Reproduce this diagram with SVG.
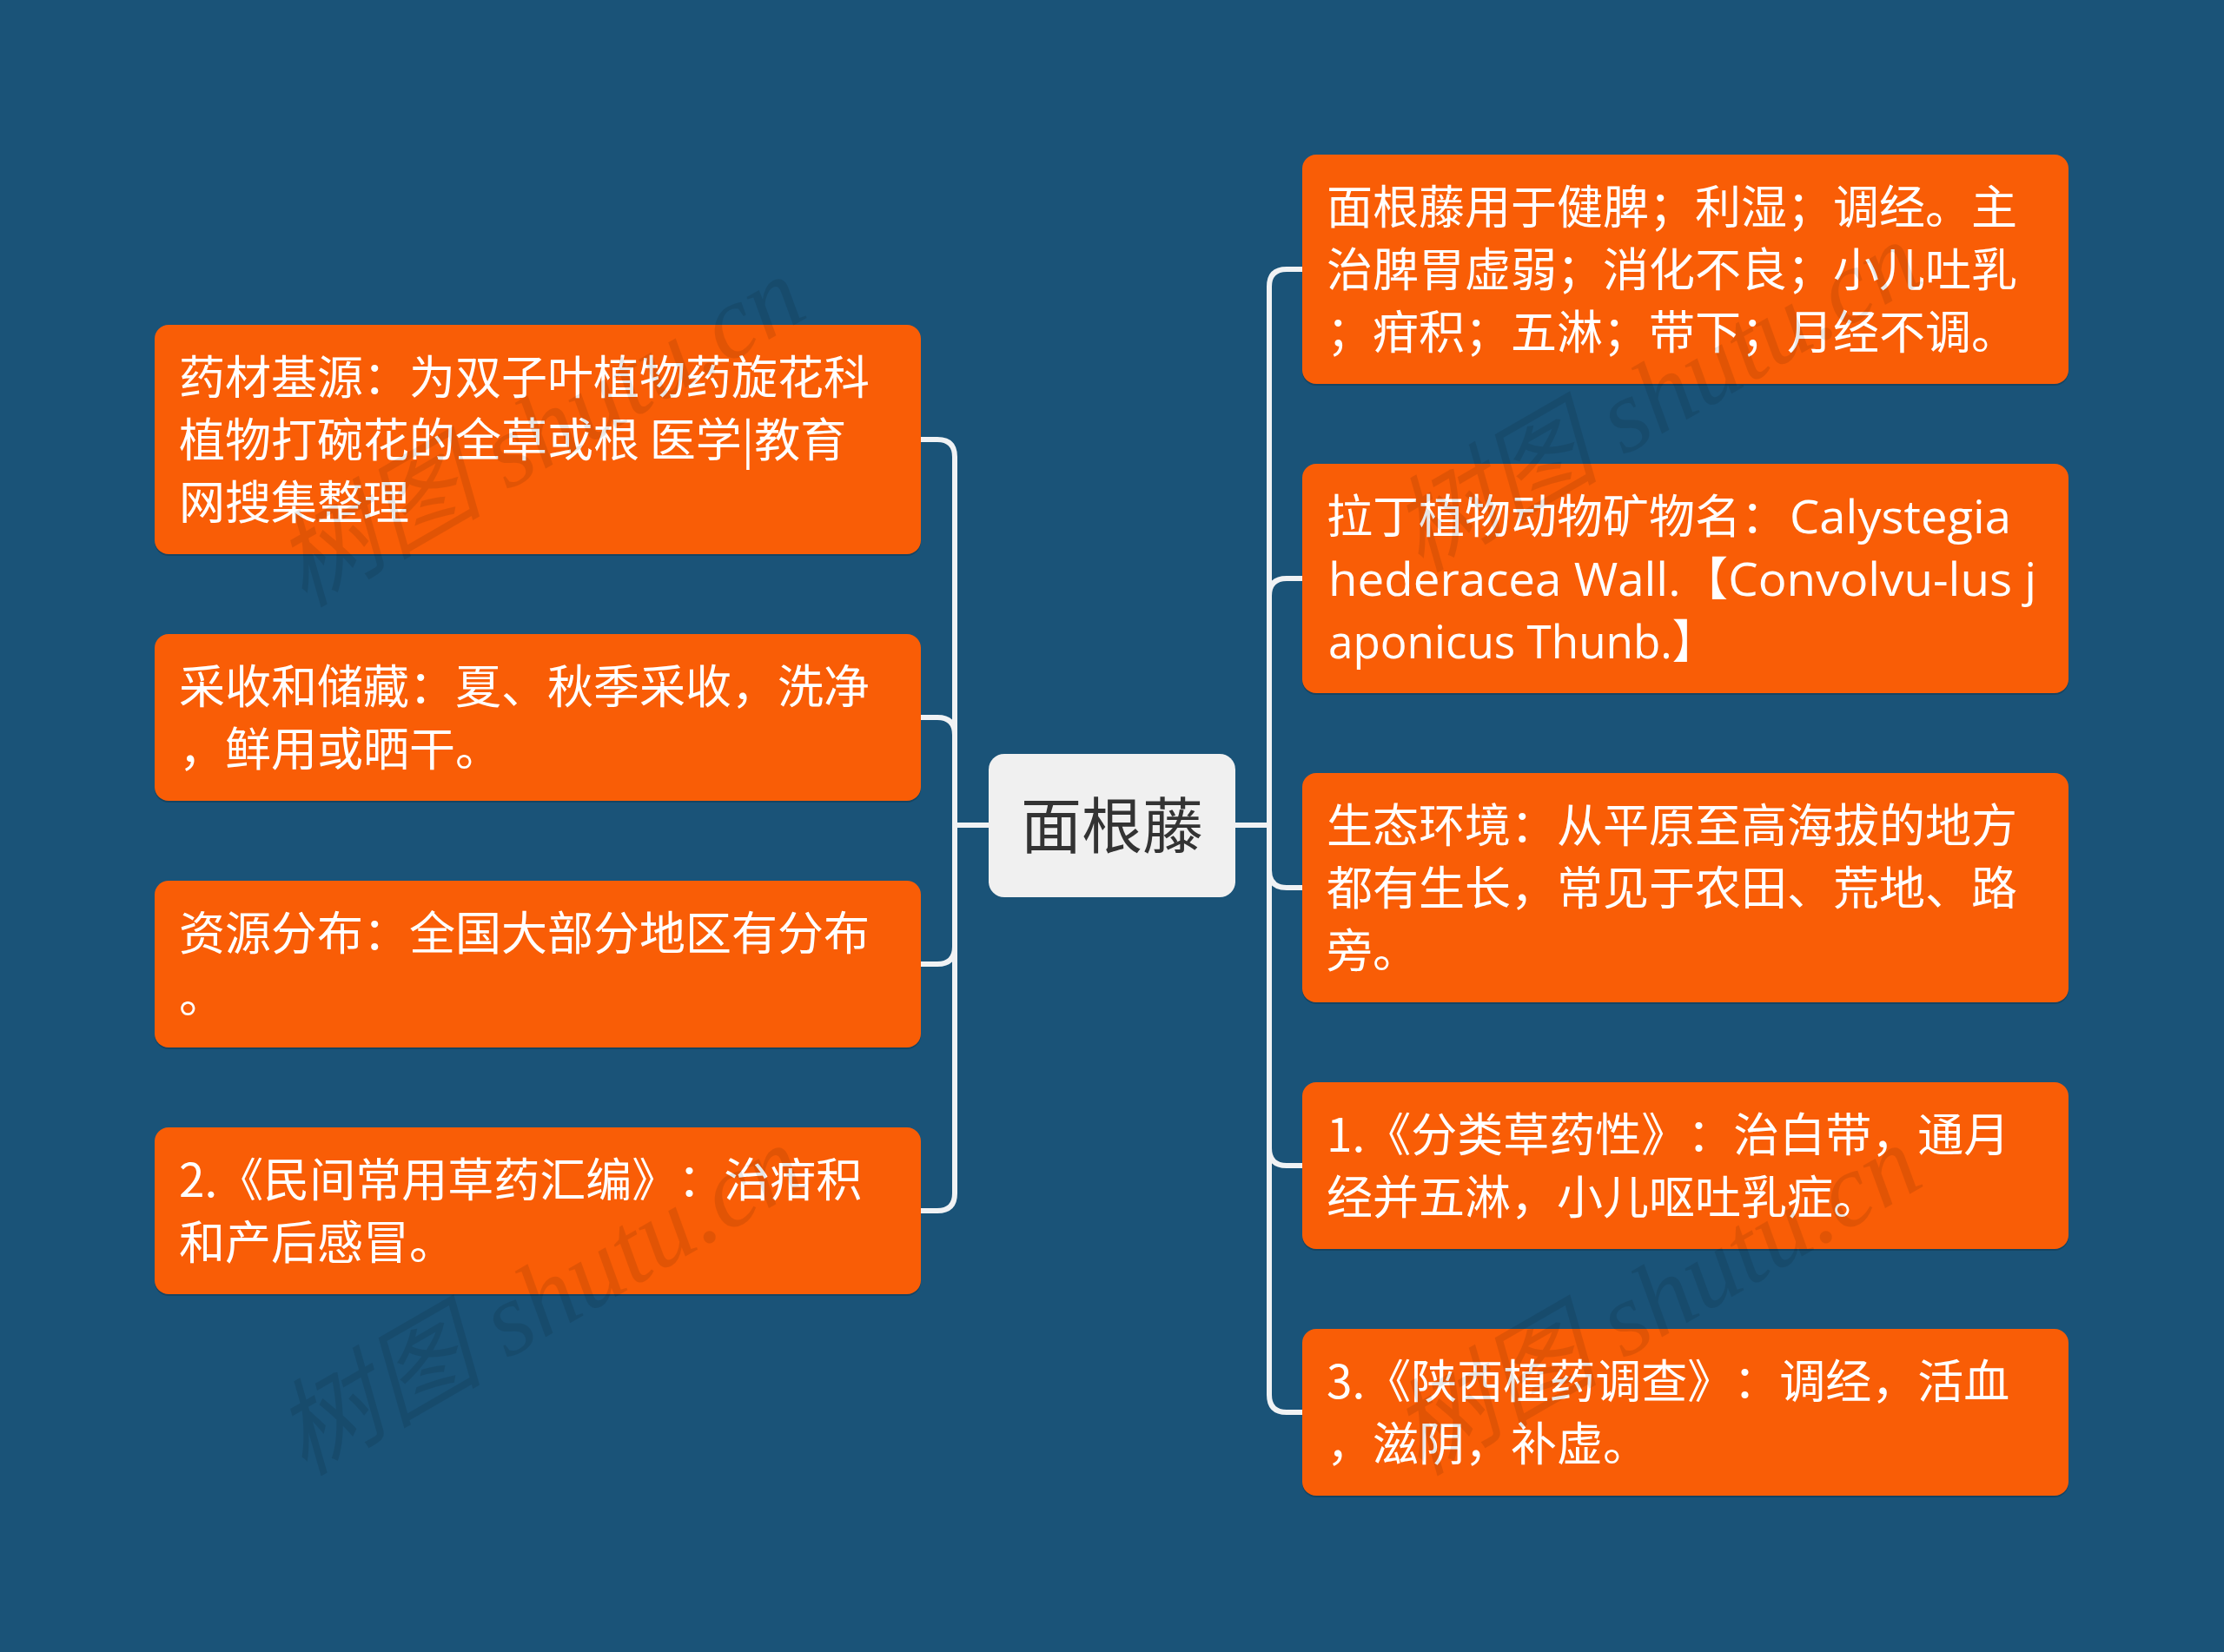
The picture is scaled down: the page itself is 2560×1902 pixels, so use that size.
<svg xmlns="http://www.w3.org/2000/svg" width="2560" height="1902" viewBox="0 0 2560 1902">
<style>
.bg{fill:#1a5378}
.node rect.box{fill:#f95d06}
.node rect.sh{fill:#000;opacity:0.18}
.t{font-family:"Noto Sans CJK SC","Noto Sans",sans-serif;font-size:53px;fill:#ffffff;text-spacing-trim:space-all}
.lat{font-family:"Open Sans","Noto Sans CJK SC",sans-serif}
.conn path{fill:none;stroke:#f0f2f4;stroke-width:6;stroke-linecap:round}
.wm{font-family:"Liberation Serif","Noto Sans CJK SC",serif;font-style:italic;font-size:120px;fill:#000;opacity:0.09}
</style>
<rect class="bg" x="0" y="0" width="2560" height="1902"/>
<g class="conn" id="connectors">
<path d="M1138 950 H1099 V526 Q1099 506 1079 506 H1060"/>
<path d="M1138 950 H1099 V846 Q1099 826 1079 826 H1060"/>
<path d="M1138 950 H1099 V1090 Q1099 1110 1079 1110 H1060"/>
<path d="M1138 950 H1099 V1374 Q1099 1394 1079 1394 H1060"/>
<path d="M1422 950 H1461 V330 Q1461 310 1481 310 H1499"/>
<path d="M1422 950 H1461 V686 Q1461 666 1481 666 H1499"/>
<path d="M1422 950 H1461 V1002 Q1461 1022 1481 1022 H1499"/>
<path d="M1422 950 H1461 V1322 Q1461 1342 1481 1342 H1499"/>
<path d="M1422 950 H1461 V1606 Q1461 1626 1481 1626 H1499"/>
</g>
<g id="center" class="node">
<rect x="1138" y="868" width="284" height="165" rx="18" fill="#f0f0f0"/>
<text x="1280" y="977" text-anchor="middle" style="font-family:'Noto Sans CJK SC','Noto Sans',sans-serif;font-size:70px;fill:#333333">面根藤</text>
</g>
<g id="l1" class="node">
<rect class="sh" x="178" y="376" width="882" height="264" rx="16"/>
<rect class="box" x="178" y="374" width="882" height="264" rx="16"/>
<text class="t" x="206" y="454">药材基源：为双子叶植物药旋花科</text>
<text class="t" x="206" y="526">植物打碗花的全草或根 医学|教育</text>
<text class="t" x="206" y="598">网搜集整理</text>
</g>
<g id="l2" class="node">
<rect class="sh" x="178" y="732" width="882" height="192" rx="16"/>
<rect class="box" x="178" y="730" width="882" height="192" rx="16"/>
<text class="t" x="206" y="810">采收和储藏：夏、秋季采收，洗净</text>
<text class="t" x="206" y="882">，鲜用或晒干。</text>
</g>
<g id="l3" class="node">
<rect class="sh" x="178" y="1016" width="882" height="192" rx="16"/>
<rect class="box" x="178" y="1014" width="882" height="192" rx="16"/>
<text class="t" x="206" y="1094">资源分布：全国大部分地区有分布</text>
<text class="t" x="206" y="1166">。</text>
</g>
<g id="l4" class="node">
<rect class="sh" x="178" y="1300" width="882" height="192" rx="16"/>
<rect class="box" x="178" y="1298" width="882" height="192" rx="16"/>
<text class="t" x="206" y="1378">2.《民间常用草药汇编》：治疳积</text>
<text class="t" x="206" y="1450">和产后感冒。</text>
</g>
<g id="r1" class="node">
<rect class="sh" x="1499" y="180" width="882" height="264" rx="16"/>
<rect class="box" x="1499" y="178" width="882" height="264" rx="16"/>
<text class="t" x="1527" y="258">面根藤用于健脾；利湿；调经。主</text>
<text class="t" x="1527" y="330">治脾胃虚弱；消化不良；小儿吐乳</text>
<text class="t" x="1527" y="402">；疳积；五淋；带下；月经不调。</text>
</g>
<g id="r2" class="node">
<rect class="sh" x="1499" y="536" width="882" height="264" rx="16"/>
<rect class="box" x="1499" y="534" width="882" height="264" rx="16"/>
<text class="t" x="1527" y="614">拉丁植物动物矿物名：<tspan class="lat" x="2060" textLength="255" lengthAdjust="spacingAndGlyphs">Calystegia</tspan></text>
<text class="t lat" x="1529" y="686" textLength="815" lengthAdjust="spacingAndGlyphs">hederacea Wall.【Convolvu-lus j</text>
<text class="t lat" x="1529" y="758" textLength="447" lengthAdjust="spacingAndGlyphs">aponicus Thunb.】</text>
</g>
<g id="r3" class="node">
<rect class="sh" x="1499" y="892" width="882" height="264" rx="16"/>
<rect class="box" x="1499" y="890" width="882" height="264" rx="16"/>
<text class="t" x="1527" y="970">生态环境：从平原至高海拔的地方</text>
<text class="t" x="1527" y="1042">都有生长，常见于农田、荒地、路</text>
<text class="t" x="1527" y="1114">旁。</text>
</g>
<g id="r4" class="node">
<rect class="sh" x="1499" y="1248" width="882" height="192" rx="16"/>
<rect class="box" x="1499" y="1246" width="882" height="192" rx="16"/>
<text class="t" x="1527" y="1326">1.《分类草药性》：治白带，通月</text>
<text class="t" x="1527" y="1398">经并五淋，小儿呕吐乳症。</text>
</g>
<g id="r5" class="node">
<rect class="sh" x="1499" y="1532" width="882" height="192" rx="16"/>
<rect class="box" x="1499" y="1530" width="882" height="192" rx="16"/>
<text class="t" x="1527" y="1610">3.《陕西植药调查》：调经，活血</text>
<text class="t" x="1527" y="1682">，滋阴，补虚。</text>
</g>
<g id="watermarks">
<text class="wm" transform="translate(350 700) rotate(-30)">树图 shutu.cn</text>
<text class="wm" transform="translate(350 1700) rotate(-30)">树图 shutu.cn</text>
<text class="wm" transform="translate(1635 660) rotate(-30)">树图 shutu.cn</text>
<text class="wm" transform="translate(1635 1700) rotate(-30)">树图 shutu.cn</text>
</g>
</svg>
